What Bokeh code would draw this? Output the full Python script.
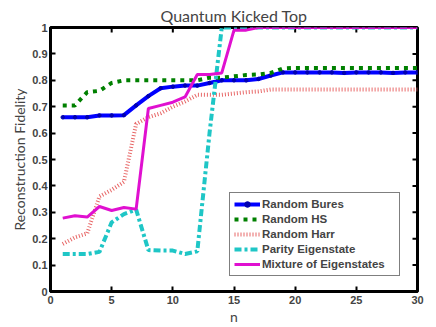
import math
from bokeh.plotting import figure
from bokeh.models import FixedTicker, Range1d, Legend
from bokeh.embed import file_html
from bokeh.resources import INLINE

n = list(range(1, 31))
random_bures = [0.66, 0.66, 0.66, 0.667, 0.667, 0.668, 0.705, 0.74, 0.77, 0.776, 0.78, 0.78, 0.79, 0.80, 0.80,
                0.80, 0.805, 0.818, 0.83, 0.83, 0.83, 0.83, 0.83, 0.828, 0.83, 0.83, 0.83, 0.828, 0.83, 0.83]
random_hs = [0.705, 0.705, 0.755, 0.76, 0.79, 0.80, 0.80, 0.80, 0.80, 0.80, 0.80, 0.80, 0.81, 0.81, 0.815,
             0.82, 0.822, 0.828, 0.845, 0.847, 0.847, 0.847, 0.847, 0.847, 0.847, 0.847, 0.847, 0.847, 0.847, 0.847]
random_harr = [0.18, 0.205, 0.22, 0.36, 0.385, 0.415, 0.635, 0.66, 0.675, 0.70, 0.72, 0.745, 0.745, 0.745, 0.75,
               0.755, 0.758, 0.765, 0.765, 0.765, 0.765, 0.765, 0.765, 0.765, 0.765, 0.765, 0.765, 0.765, 0.765, 0.765]
parity_eigenstate = [0.142, 0.142, 0.142, 0.15, 0.262, 0.293, 0.31, 0.157, 0.155, 0.155, 0.142, 0.152, 0.6, 1.0, 1.0,
                     1.0, 1.0, 1.0, 1.0, 1.0, 1.0, 1.0, 1.0, 1.0, 1.0, 1.0, 1.0, 1.0, 1.0, 1.0]
mixture_eigenstates = [0.278, 0.287, 0.282, 0.322, 0.307, 0.318, 0.312, 0.693, 0.705, 0.717, 0.737, 0.822, 0.822,
                       0.828, 0.99, 0.99, 1.0, 1.0, 1.0, 1.0, 1.0, 1.0, 1.0, 1.0, 1.0, 1.0, 1.0, 1.0, 1.0, 1.0]

x_ticks = [0, 5, 10, 15, 20, 25, 30]
y_ticks = [0, 0.1, 0.2, 0.3, 0.4, 0.5, 0.6, 0.7, 0.8, 0.9, 1]
y_tick_labels = ["0", "0.1", "0.2", "0.3", "0.4", "0.5", "0.6", "0.7", "0.8", "0.9", "1"]
x_min, x_max = 0, 30
y_min, y_max = 0, 1

p = figure(width=436, height=327, output_backend="svg", toolbar_location=None,
           x_range=Range1d(x_min, x_max), y_range=Range1d(y_min, y_max),
           min_border_left=50, min_border_right=19, min_border_top=27, min_border_bottom=30,
           background_fill_color="white", border_fill_color="white")

p.title.text = "Quantum Kicked Top"
p.title.align = "center"
p.title.text_font = "Lato"
p.title.text_font_style = "normal"
p.title.text_font_size = "16px"
p.title.offset = 0
p.title.standoff = 5

p.xgrid.visible = False
p.ygrid.visible = False
p.outline_line_color = "black"
p.outline_line_width = 3

tick_font = "Liberation Sans"

for ax in (p.xaxis[0], p.yaxis[0]):
    ax.axis_line_width = 3
    ax.axis_line_color = "black"
    ax.major_tick_in = 5
    ax.major_tick_out = 0
    ax.major_tick_line_width = 2
    ax.minor_tick_line_color = None
    ax.major_label_text_font = tick_font
    ax.major_label_text_font_style = "bold"
    ax.major_label_text_font_size = "11px"
    ax.axis_label_text_font = "Lato"
    ax.axis_label_text_font_style = "normal"
    ax.axis_label_text_font_size = "14px"
    ax.axis_label_standoff = 1

p.xaxis.ticker = FixedTicker(ticks=x_ticks)
p.yaxis.ticker = FixedTicker(ticks=y_ticks)
p.yaxis.major_label_overrides = {t: lab for t, lab in zip(y_ticks, y_tick_labels)}
p.xaxis.major_label_standoff = 4
p.yaxis.major_label_standoff = 3
p.xaxis.axis_label = "n"
p.yaxis.axis_label = "Reconstruction Fidelity"

# matlab-style inward ticks on the top and right edges of the box
p.ray(x=x_ticks, y=[y_max] * len(x_ticks), length=5, length_units="screen",
      angle=-math.pi / 2, line_color="black", line_width=2)
p.ray(x=[x_max] * len(y_ticks), y=y_ticks, length=5, length_units="screen",
      angle=math.pi, line_color="black", line_width=2)

r_bures = p.line(n, random_bures, line_color="#0000ff", line_width=4)
r_bures_pts = p.scatter(n, random_bures, size=3.5, fill_color="#0000b0", line_color="#0000b0")
r_hs = p.line(n, random_hs, line_color="#008000", line_width=4, line_dash="4 5")
r_harr = p.line(n, random_harr, line_color="#e86868", line_width=4, line_dash="1 2")
r_par = p.line(n, parity_eigenstate, line_color="#1fc6c6", line_width=4, line_dash="7 3 3 3")
r_mix = p.line(n, mixture_eigenstates, line_color="#e010d0", line_width=3)

legend = Legend(items=[
    ("Random Bures", [r_bures, r_bures_pts]),
    ("Random HS", [r_hs]),
    ("Random Harr", [r_harr]),
    ("Parity Eigenstate", [r_par]),
    ("Mixture of Eigenstates", [r_mix]),
], location=(179, 15))
legend.label_text_font = tick_font
legend.label_text_font_style = "bold"
legend.label_text_font_size = "11.5px"
legend.label_height = 14
legend.label_width = 133
legend.label_standoff = 2
legend.glyph_width = 26
legend.glyph_height = 14
legend.spacing = 1
legend.padding = 4
legend.margin = 0
legend.border_line_color = "black"
legend.border_line_width = 1.5
legend.background_fill_color = "white"
legend.background_fill_alpha = 1
p.add_layout(legend, "center")

open("out.html", "w").write(file_html(p, INLINE))
